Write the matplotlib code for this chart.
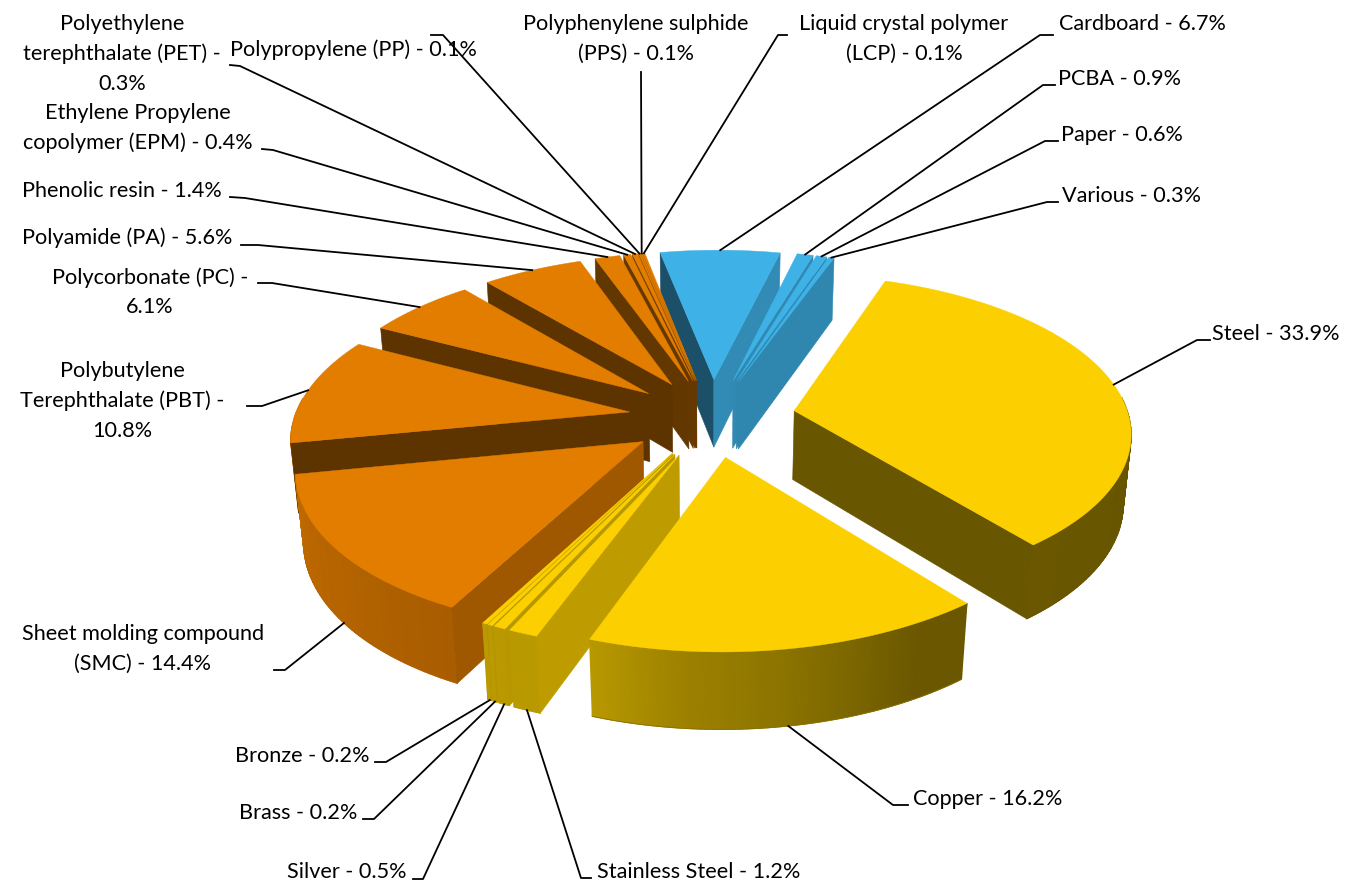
import matplotlib

matplotlib.use('Agg')

import matplotlib.pyplot as plt
import numpy as np
from matplotlib.colors import LinearSegmentedColormap

# clockwise from the top of the pie
materials = ['Cardboard', 'PCBA', 'Paper', 'Various', 'Steel', 'Copper', 'Stainless Steel', 'Silver', 'Brass',
             'Bronze', 'Sheet molding compound (SMC)', 'Polybutylene Terephthalate (PBT)', 'Polycorbonate (PC)',
             'Polyamide (PA)', 'Phenolic resin', 'Ethylene Propylene copolymer (EPM)',
             'Polyethylene terephthalate (PET)', 'Polypropylene (PP)', 'Polyphenylene sulphide (PPS)',
             'Liquid crystal polymer (LCP)']
shares = [6.7, 0.9, 0.6, 0.3, 33.9, 16.2, 1.2, 0.5, 0.2, 0.2, 14.4, 10.8, 6.1, 5.6, 1.4, 0.4, 0.3, 0.1, 0.1, 0.1]
groups = ['blue'] * 4 + ['yellow'] * 6 + ['orange'] * 10

labels = ['Cardboard - 6.7%', 'PCBA - 0.9%', 'Paper - 0.6%', 'Various - 0.3%', 'Steel - 33.9%', 'Copper - 16.2%',
          'Stainless Steel - 1.2%', 'Silver - 0.5%', 'Brass - 0.2%', 'Bronze - 0.2%',
          'Sheet molding compound\n(SMC) - 14.4%', 'Polybutylene\nTerephthalate (PBT) -\n10.8%',
          'Polycorbonate (PC) -\n6.1%', 'Polyamide (PA) - 5.6%', 'Phenolic resin - 1.4%',
          'Ethylene Propylene\ncopolymer (EPM) - 0.4%', 'Polyethylene\nterephthalate (PET) -\n0.3%',
          'Polypropylene (PP) - 0.1%', 'Polyphenylene sulphide\n(PPS) - 0.1%', 'Liquid crystal polymer\n(LCP) - 0.1%']

colors = {'blue': '#3EB1E6', 'yellow': '#FCD000', 'orange': '#E37D00'}

# label centre, then elbow and end of the leader (figure pixels)
label_pos = [(1142, 24), (1119, 79), (1122, 135), (1131, 196), (1276, 334), (988, 799), (699, 872), (347, 872),
             (298, 813), (302, 756), (143, 649), (122, 401), (150, 292), (127, 238), (122, 191), (138, 128),
             (122, 54), (353, 50), (636, 39), (904, 39)]
elbows = [(1040, 35), (1043, 85), (1045, 141), (1047, 202), (1197, 340), (893, 805), (581, 878), (423, 879),
          (374, 819), (386, 762), (285, 670), (262, 406), (272, 283), (258, 245), (245, 198), (273, 150),
          (240, 66), (443, 35), (641, 72), (778, 35)]
ends = [(1053, 35), (1055, 85), (1058, 141), (1058, 202), (1210, 340), (908, 805), (591, 878), (413, 879),
        (363, 819), (375, 762), (274, 670), (247, 406), (258, 283), (241, 245), (230, 197), (262, 149),
        (230, 65), (431, 35), (641, 72), (787, 35)]

# projection of the tilted pie
CX, CY = 712, 417.5
S, K, P, Q = 335, 0.467, 0.135, 0.09
SHEAR = 0.015
HEIGHT = 0.21
EXPLODE = 0.25
ROTATION = -11.6


def project(x, y, z=0.0):
    s = S / (1 + P * y - Q * z)
    return CX + s * (x + SHEAR * y), CY - s * K * y - s * z


def wall_shade(angle):
    return np.interp(angle, [90, 140, 150, 170, 185, 199, 206, 258, 300],
                     [0.40, 0.42, 0.42, 0.55, 0.62, 0.73, 0.74, 0.85, 0.85])


def face_shade(normal):
    return np.interp(normal % 360, [90, 105, 116, 150, 230, 258, 360], [0.80, 0.78, 0.71, 0.41, 0.41, 0.45, 0.45])


def tint(color, b):
    rgb = np.array(matplotlib.colors.to_rgb(color))
    return tuple(rgb * b)


def cross(a, b):
    return a[0] * b[1] - a[1] * b[0]


fig = plt.figure(figsize=(13.5, 8.82), dpi=100)
ax = fig.add_axes([0, 0, 1, 1])
ax.set_xlim(0, 1350)
ax.set_ylim(882, 0)
ax.axis('off')

edges = ROTATION + np.cumsum([0] + shares) * 3.6
mids = (edges[:-1] + edges[1:]) / 2

for i in sorted(range(len(shares)), key=lambda n: -np.cos(np.radians(mids[n]))):
    a0, a1, mid = edges[i], edges[i + 1], np.radians(mids[i])
    base = colors[groups[i]]
    ox, oy = EXPLODE * np.sin(mid), EXPLODE * np.cos(mid)
    ang = np.linspace(a0, a1, max(int(a1 - a0), 2) + 1)
    rad = np.radians(ang)
    wx, wy = ox + np.sin(rad), oy + np.cos(rad)

    # outer wall, smooth shade along the rim; the back of the rim is hidden anyway
    keep = np.cos(rad) < 0.1
    if keep.sum() >= 2:
        x_top, y_top = project(wx[keep], wy[keep])
        x_bot, y_bot = project(wx[keep], wy[keep], -HEIGHT)
        shade = wall_shade(ang[keep] % 360)
        cmap = LinearSegmentedColormap.from_list('shade', ['black', base])
        ax.pcolormesh(np.array([x_top, x_bot]), np.array([y_top, y_bot]), np.array([shade, shade]),
                      cmap=cmap, vmin=0, vmax=1, shading='gouraud', zorder=2)
        # lower rim, gouraud edges are jagged otherwise
        ax.plot(x_bot, y_bot, color=tint(base, float(np.mean(shade))), lw=0.6, zorder=2)

    # the two cut faces, only where they turn towards the viewer
    ax0, ay0 = project(ox, oy)
    top_pts = list(zip(*project(wx, wy)))
    far = top_pts[len(top_pts) // 2]
    for k, normal in ((0, a0 - 90), (-1, a1 + 90)):
        rim_w = (wx[k], wy[k])
        p = project(*rim_w)
        edge = (p[0] - ax0, p[1] - ay0)
        inside = (far[0] - ax0, far[1] - ay0)
        if cross(edge, (0, 1)) * cross(edge, inside) < 0:
            ax1, ay1 = project(ox, oy, -HEIGHT)
            q = project(*rim_w, -HEIGHT)
            ax.fill([ax0, p[0], q[0], ax1], [ay0, p[1], q[1], ay1], color=tint(base, face_shade(normal)),
                    lw=0.4, zorder=2)

    # top of the slice
    tx, ty = project(np.r_[ox, wx], np.r_[oy, wy])
    ax.fill(tx, ty, color=base, lw=0.3, zorder=2)

# leaders and labels
for i, text in enumerate(labels):
    mid = np.radians(mids[i])
    front = np.cos(mid) < -0.3
    start = project((1 + EXPLODE) * np.sin(mid), (1 + EXPLODE) * np.cos(mid), -HEIGHT if front else 0.0)
    xs = [start[0], elbows[i][0], ends[i][0]]
    ys = [start[1], elbows[i][1], ends[i][1]]
    ax.plot(xs, ys, color='black', lw=1.3, zorder=3)
    ax.text(label_pos[i][0], label_pos[i][1], text, ha='center', va='center', fontsize=15.6, family='Lato',
            color='black', linespacing=1.58, zorder=4)

plt.savefig('out.png', dpi=100)
plt.close()
